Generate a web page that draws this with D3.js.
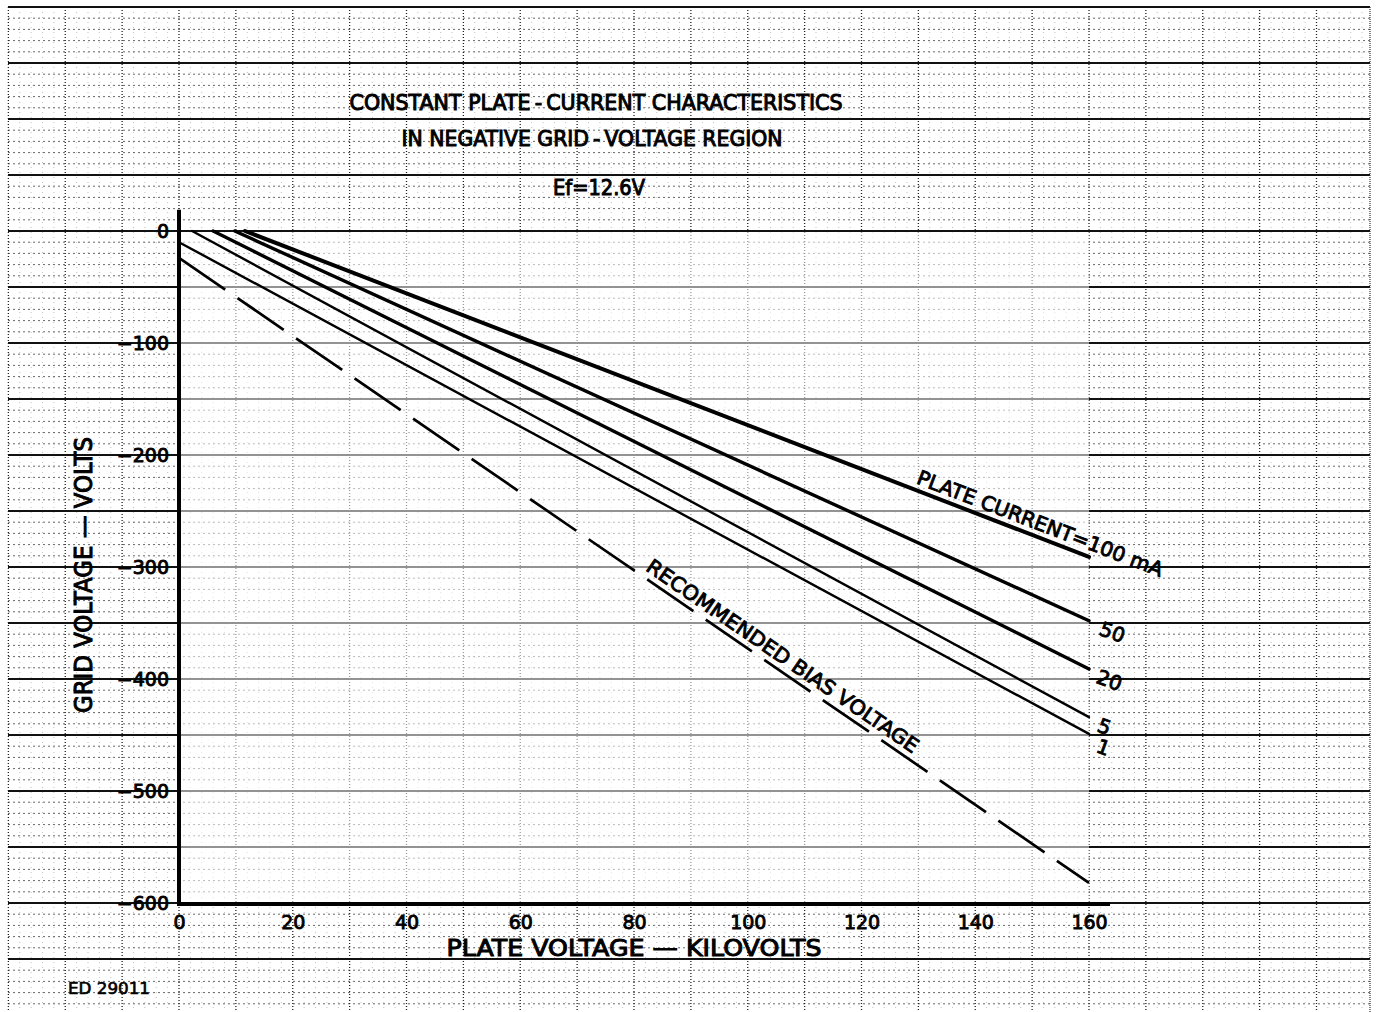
<!DOCTYPE html>
<html>
<head>
<meta charset="utf-8">
<script src="https://cdn.jsdelivr.net/npm/d3@7"></script>
<style>
  html, body { margin: 0; padding: 0; background: #fff; }
  svg { display: block; }
  text { font-family: "DejaVu Sans", "Liberation Sans", sans-serif; fill: #000; }
</style>
</head>
<body>
<script>
// ---------------- data ----------------
const currentLabels = ["100", "50", "20", "5", "1"];          // plate current, mA
const startPlateKV  = [11.6, 9.8, 6.0, 2.3, 0];               // kV where each curve starts
const startGridV    = [0, 0, 0, 0, -10];                       // grid volts at start
const endPlateKV    = [160, 160, 160, 160, 160];
const endGridV      = [-291, -348, -391, -434, -449];
const biasPlateKV   = [0, 160];
const biasGridV     = [-24, -582];
const xTickValues   = [0, 20, 40, 60, 80, 100, 120, 140, 160];
const yTickValues   = [0, -100, -200, -300, -400, -500, -600];
const lineWidths    = [4, 3.4, 3.4, 2.4, 2.4];

// ---------------- layout ----------------
const W = 1382, H = 1012;
const x = d3.scaleLinear().domain([0, 160]).range([179, 1089]);
const y = d3.scaleLinear().domain([0, -600]).range([231, 903]);

const svg = d3.select("body").append("svg").attr("width", W).attr("height", H);
svg.append("rect").attr("width", W).attr("height", H).attr("fill", "#fff");

// ---------------- graph paper ----------------
const paper = svg.append("g");
const kvMax = x.invert(1370);
const vBot = y.invert(H);
const xMinor = d3.range(-30, kvMax, 2).filter(v => v % 10 !== 0);
const xMajor = d3.range(-30, kvMax, 10);
const yMinor = d3.range(200, vBot, -10).filter(v => v % 50 !== 0);
const yMajor = d3.range(200, vBot, -50);

paper.selectAll(".xm").data(xMinor).join("line")
  .attr("x1", d => x(d)).attr("x2", d => x(d)).attr("y1", 7).attr("y2", H)
  .attr("stroke", "#999").attr("stroke-width", 1).attr("stroke-dasharray", "1,4").attr("opacity", 0.6);
paper.selectAll(".ym").data(yMinor).join("line")
  .attr("x1", 8).attr("x2", 1370).attr("y1", d => y(d)).attr("y2", d => y(d))
  .attr("stroke", "#444").attr("stroke-width", 1).attr("stroke-dasharray", "2,3").attr("opacity", 0.8);
paper.selectAll(".xM").data(xMajor).join("line")
  .attr("x1", d => x(d)).attr("x2", d => x(d)).attr("y1", 7).attr("y2", H)
  .attr("stroke", "#222").attr("stroke-width", 1.3).attr("stroke-dasharray", "1,2");
paper.selectAll(".yM").data(yMajor).join("line")
  .attr("x1", 8).attr("x2", 1370).attr("y1", d => y(d)).attr("y2", d => y(d))
  .attr("stroke", "#111").attr("stroke-width", 1.8);
paper.append("line").attr("x1", 1370).attr("x2", 1370).attr("y1", 7).attr("y2", H)
  .attr("stroke", "#333").attr("stroke-width", 1.2).attr("stroke-dasharray", "1,1");

// lighten grid inside plot area
svg.append("rect")
  .attr("x", x(0)).attr("y", y(0) + 1)
  .attr("width", x(160) - x(0)).attr("height", y(-600) - y(0) - 1)
  .attr("fill", "#fff").attr("opacity", 0.55);

// ---------------- axes ----------------
svg.append("line").attr("x1", x(0)).attr("x2", x(0)).attr("y1", y(19)).attr("y2", y(-600) + 2)
  .attr("stroke", "#000").attr("stroke-width", 4);
svg.append("line").attr("x1", x(0) - 2).attr("x2", x(163.7)).attr("y1", y(-600) + 1).attr("y2", y(-600) + 1)
  .attr("stroke", "#000").attr("stroke-width", 4);

const xAxis = d3.axisBottom(x).tickValues(xTickValues).tickSize(0).tickPadding(0).tickFormat(d3.format("d"));
const gx = svg.append("g").attr("transform", `translate(0, 929)`).call(xAxis);
gx.select(".domain").remove();
gx.selectAll("text").attr("dy", 0).attr("font-size", 19).attr("stroke", "#000").attr("stroke-width", 0.9)
  .style("font-family", '"DejaVu Sans", sans-serif');

const yAxis = d3.axisLeft(y).tickValues(yTickValues).tickSize(0).tickPadding(10)
  .tickFormat(d => d === 0 ? "0" : "\u2212" + Math.abs(d));
const gy = svg.append("g").attr("transform", `translate(${x(0)}, 0)`).call(yAxis);
gy.select(".domain").remove();
gy.selectAll("text").attr("dy", "0.36em").attr("font-size", 19).attr("stroke", "#000").attr("stroke-width", 0.9)
  .style("font-family", '"DejaVu Sans", sans-serif');

// ---------------- curves ----------------
const line = d3.line().x(d => x(d[0])).y(d => y(d[1]));
const series = currentLabels.map((c, i) => ({
  label: c,
  pts: [[startPlateKV[i], startGridV[i]], [endPlateKV[i], endGridV[i]]],
  w: lineWidths[i]
}));
svg.selectAll(".curve").data(series).join("path")
  .attr("d", d => line(d.pts)).attr("fill", "none").attr("stroke", "#000")
  .attr("stroke-width", d => d.w).attr("stroke-linecap", "round");

svg.append("path")
  .attr("d", line(biasPlateKV.map((k, i) => [k, biasGridV[i]])))
  .attr("fill", "none").attr("stroke", "#000").attr("stroke-width", 2.7)
  .attr("stroke-dasharray", "56,15").attr("stroke-linecap", "butt");

// curve end labels
const endOffsets = [null, [21, 18], [18, 18], [13, 16], [12, 20]];
series.forEach((s, i) => {
  if (i === 0) return;
  const px = x(160) + endOffsets[i][0], py = y(endGridV[i]) + endOffsets[i][1];
  svg.append("text").attr("transform", `translate(${px},${py}) rotate(20)`)
    .attr("text-anchor", "middle").attr("font-size", 20)
    .attr("stroke", "#000").attr("stroke-width", 0.9).text(s.label);
});

// 100 mA label along the line
{
  const k = 130;
  const t = (k - startPlateKV[0]) / (endPlateKV[0] - startPlateKV[0]);
  const v = startGridV[0] + t * (endGridV[0] - startGridV[0]);
  svg.append("text").attr("transform", `translate(${x(k) - 3},${y(v) - 8}) rotate(21)`)
    .attr("font-size", 20).attr("stroke", "#000").attr("stroke-width", 0.9)
    .attr("textLength", 262).attr("lengthAdjust", "spacingAndGlyphs")
    .text("PLATE CURRENT=" + currentLabels[0] + " mA");
}
// bias label
{
  const k = 81.9;
  const t = (k - biasPlateKV[0]) / (biasPlateKV[1] - biasPlateKV[0]);
  const v = biasGridV[0] + t * (biasGridV[1] - biasGridV[0]);
  const ang = Math.atan2(y(biasGridV[1]) - y(biasGridV[0]), x(160) - x(0)) * 180 / Math.PI;
  svg.append("text").attr("transform", `translate(${x(k)},${y(v) - 8}) rotate(${ang})`)
    .attr("font-size", 20).attr("stroke", "#000").attr("stroke-width", 0.9)
    .attr("textLength", 325).attr("lengthAdjust", "spacingAndGlyphs")
    .text("RECOMMENDED BIAS VOLTAGE");
}

// ---------------- titles ----------------
function label(txt, cx, by, size, len, anchor, sw) {
  return svg.append("text").attr("x", cx).attr("y", by).attr("font-size", size)
    .attr("text-anchor", anchor || "middle").attr("stroke", "#000").attr("stroke-width", sw || 1.0)
    .attr("textLength", len).attr("lengthAdjust", "spacingAndGlyphs").text(txt);
}
label("CONSTANT PLATE\u2009-\u2009CURRENT CHARACTERISTICS", 596, 110, 21, 493);
label("IN NEGATIVE GRID\u2009-\u2009VOLTAGE REGION", 592, 146, 21, 381);
label("Ef=12.6V", 599, 195, 21, 92);

label("PLATE VOLTAGE \u2014 KILOVOLTS", 634, 956, 23, 375);
svg.append("text").attr("transform", "translate(92,575) rotate(-90)")
  .attr("text-anchor", "middle").attr("font-size", 24).attr("stroke", "#000").attr("stroke-width", 1.0)
  .attr("textLength", 276).attr("lengthAdjust", "spacingAndGlyphs")
  .text("GRID VOLTAGE \u2014 VOLTS");

label("ED  29011", 68, 994, 15, 82, "start", 0.6);
</script>
</body>
</html>
